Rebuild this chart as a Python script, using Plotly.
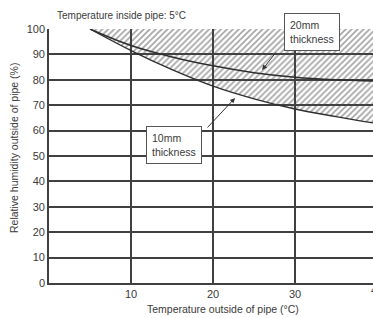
import plotly.graph_objects as go

# Data
temp_outside = [5, 10, 15, 20, 25, 30, 35, 39.5]
rh_10mm = [100, 91.5, 84, 77.5, 72.5, 68.5, 65.5, 63]
rh_20mm = [100, 93.5, 89, 85.5, 82.8, 81, 80, 79.5]
x_ticks = [10, 20, 30]
y_ticks = [0, 10, 20, 30, 40, 50, 60, 70, 80, 90, 100]

FONT = "Liberation Sans, Arial, sans-serif"
GRID = "#404040"
TXT = "#3a3a3a"

fig = go.Figure()

# hatched region between 10mm curve and 100 %
poly_x = temp_outside + temp_outside[::-1]
poly_y = rh_10mm + [100] * len(temp_outside)
fig.add_trace(go.Scatter(
    x=poly_x, y=poly_y, mode="lines", fill="toself",
    line=dict(width=0, color="rgba(0,0,0,0)"),
    fillcolor="rgba(0,0,0,0)",
    fillpattern=dict(shape="/", fgcolor="#474747", bgcolor="rgba(255,255,255,0)",
                     size=4.2, solidity=0.38),
    hoverinfo="skip", showlegend=False))

fig.add_trace(go.Scatter(x=temp_outside, y=rh_10mm, mode="lines", line_shape="spline",
                         line=dict(color="#2e2e2e", width=1.3), showlegend=False))
fig.add_trace(go.Scatter(x=temp_outside, y=rh_20mm, mode="lines", line_shape="spline",
                         line=dict(color="#2e2e2e", width=1.5), showlegend=False))

fig.update_layout(
    width=373, height=318,
    margin=dict(l=49, r=0, t=29, b=35),
    paper_bgcolor="white", plot_bgcolor="white",
    font=dict(family=FONT, color=TXT, size=11),
    xaxis=dict(range=[0, 39.5], tickvals=x_ticks, ticks="", showgrid=True,
               gridcolor=GRID, gridwidth=1.6, showline=True, linecolor=GRID, linewidth=1.6,
               zeroline=False, tickfont=dict(size=11, color=TXT)),
    yaxis=dict(range=[0, 100], tickvals=y_ticks, ticks="", showgrid=True,
               gridcolor=GRID, gridwidth=1.6, showline=True, linecolor=GRID, linewidth=1.6,
               zeroline=False, tickfont=dict(size=11, color=TXT)),
)

ann = []
ann.append(dict(text="Temperature inside pipe: 5°C", xref="paper", yref="paper",
                x=0.0185, y=1.055, xanchor="left", yanchor="middle", showarrow=False,
                font=dict(size=10, color=TXT)))
ann.append(dict(text="Temperature outside of pipe (°C)", xref="paper", yref="paper",
                x=(223 - 49) / 324, y=(283 - 309) / 254, xanchor="center", yanchor="middle",
                showarrow=False, font=dict(size=10.5, color=TXT)))
ann.append(dict(text="Relative humidity outside of pipe (%)", xref="paper", yref="paper",
                x=(14 - 49) / 324, y=(283 - 148) / 254, xanchor="center", yanchor="middle",
                textangle=-90, showarrow=False, font=dict(size=10.5, color=TXT)))
ann.append(dict(text="40", xref="paper", yref="paper", x=(377 - 49) / 324,
                y=(283 - 290) / 254, xanchor="center", yanchor="middle", showarrow=False,
                font=dict(size=11, color=TXT)))
# boxes
ann.append(dict(text="20mm<br>thickness", xref="x", yref="y", x=(311.5 - 49) / 8.2,
                y=(283 - 32) / 2.54, xanchor="center", yanchor="middle", showarrow=False,
                align="left", bgcolor="white", bordercolor="#555555", borderwidth=1,
                borderpad=5, font=dict(size=10.5, color=TXT)))
ann.append(dict(text="10mm<br>thickness", xref="x", yref="y", x=(174 - 49) / 8.2,
                y=(283 - 145) / 2.54, xanchor="center", yanchor="middle", showarrow=False,
                align="left", bgcolor="white", bordercolor="#555555", borderwidth=1,
                borderpad=5, font=dict(size=10.5, color=TXT)))
# arrows
ann.append(dict(text="", xref="x", yref="y", x=(262 - 49) / 8.2, y=(283 - 70) / 2.54,
                ax=15, ay=-19, showarrow=True, arrowhead=2, arrowsize=1, arrowwidth=1,
                arrowcolor="#333333"))
ann.append(dict(text="", xref="x", yref="y", x=(235 - 49) / 8.2, y=(283 - 98) / 2.54,
                ax=-29, ay=31, showarrow=True, arrowhead=2, arrowsize=1, arrowwidth=1,
                arrowcolor="#333333"))
fig.update_layout(annotations=ann)

fig.write_html("out.html", config={"displayModeBar": False},
               post_script="document.body.style.margin='0';")
